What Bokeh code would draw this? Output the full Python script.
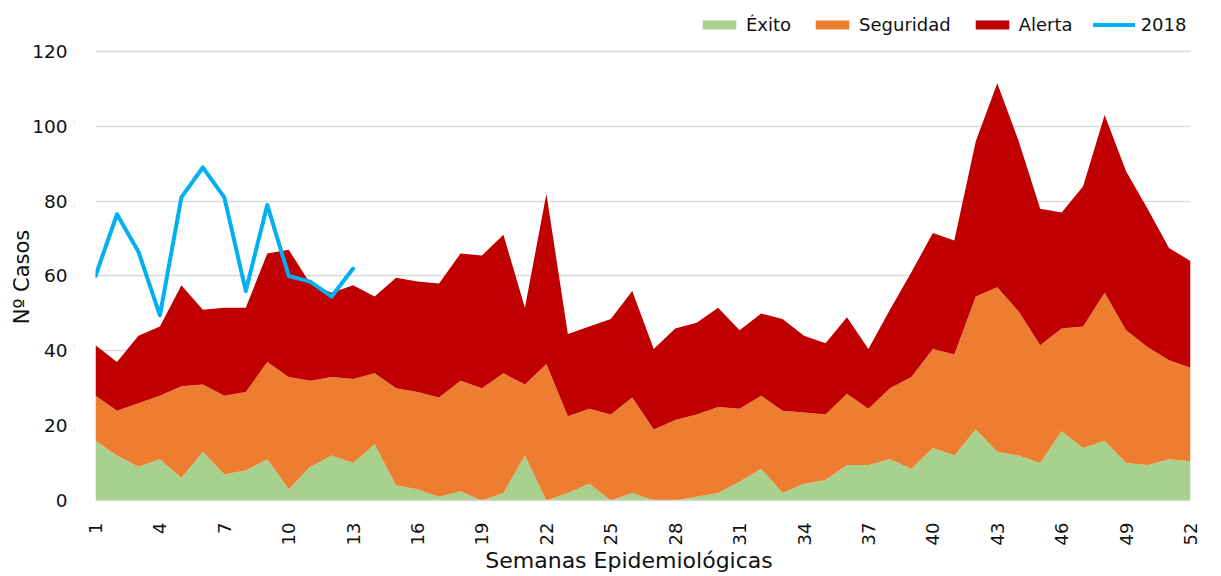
import math
from bokeh.plotting import figure
from bokeh.models import ColumnDataSource, Range1d, FixedTicker, Legend
from bokeh.embed import file_html
from bokeh.resources import INLINE

semanas = list(range(1, 53))
exito = [16, 12, 9, 11, 6, 13, 7, 8, 11, 3, 9, 12, 10, 15, 4, 3, 1, 2.5, 0, 2,
         12, 0, 2, 4.5, 0, 2, 0, 0, 1, 2, 5, 8.5, 2, 4.5, 5.5, 9.5, 9.5, 11, 8.5, 14,
         12, 19, 13, 12, 10, 18.5, 14, 16, 10, 9.5, 11, 10.5]
seguridad = [12, 12, 17, 17, 24.5, 18, 21, 21, 26, 30, 23, 21, 22.5, 19, 26, 26, 26.5, 29.5, 30, 32,
             19, 36.5, 20.5, 20, 23, 25.5, 19, 21.5, 22, 23, 19.5, 19.5, 22, 19, 17.5, 19, 15, 19, 24.5, 26.5,
             27, 35.5, 44, 38.5, 31.5, 27.5, 32.5, 39.5, 35.5, 31.5, 26.5, 25]
alerta = [13.5, 13, 18, 18.5, 27, 20, 23.5, 22.5, 29, 34, 26, 22.5, 25, 20.5, 29.5, 29.5, 30.5, 34, 35.5, 37,
          20.5, 45.5, 22, 22, 25.5, 28.5, 21.5, 24.5, 24.5, 26.5, 21, 22, 24.5, 20.5, 19, 20.5, 16, 21, 28, 31,
          30.5, 41.5, 54.5, 45.5, 36.5, 31, 37.5, 47.5, 42.5, 37, 30, 28.5]
semanas_2018 = list(range(1, 14))
casos_2018 = [60, 76.5, 66.5, 49.5, 81, 89, 81, 56, 79, 60, 58.5, 54.5, 62]
ticks_x = list(range(1, 53, 3))
ticks_y = [0, 20, 40, 60, 80, 100, 120]

series = ["Éxito", "Seguridad", "Alerta"]
colores = ["#A9D18E", "#ED7D31", "#C00000"]

src = ColumnDataSource(dict(semana=semanas, exito=exito, seguridad=seguridad, alerta=alerta))

FONT = "DejaVu Sans"
TXT = "#111111"
NB = "\u00a0"

# frame spans 13..500 px vertically; 120 sits at 51 px -> top of range ~130.15
p = figure(width=1221, height=576, output_backend="svg", toolbar_location=None,
           x_range=Range1d(1, 52), y_range=Range1d(0, 130.15),
           min_border_left=95, min_border_right=31, min_border_top=13, min_border_bottom=76)
p.outline_line_color = None
p.background_fill_color = "white"

rs = p.varea_stack(stackers=["exito", "seguridad", "alerta"], x="semana", color=colores, source=src)
ln = p.line(semanas_2018, casos_2018, line_width=4, color="#00B0F0", line_join="round", line_cap="round")

p.xgrid.grid_line_color = None
p.ygrid.grid_line_color = "#D9D9D9"
p.ygrid.grid_line_width = 1.3
p.ygrid.ticker = FixedTicker(ticks=ticks_y)

p.xaxis.ticker = FixedTicker(ticks=ticks_x)
p.xaxis.major_label_orientation = math.pi / 2
p.xaxis.axis_line_color = "#D9D9D9"
p.xaxis.axis_line_width = 1.5
p.xaxis.major_tick_line_color = None
p.xaxis.minor_tick_line_color = None
p.xaxis.major_tick_out = 0
p.xaxis.major_tick_in = 0
p.xaxis.major_label_standoff = 22
p.xaxis.major_label_text_font = FONT
p.xaxis.major_label_text_font_size = "18px"
p.xaxis.major_label_text_color = TXT
p.xaxis.axis_label = "Semanas Epidemiológicas" + NB * 4
p.xaxis.axis_label_text_font = FONT
p.xaxis.axis_label_text_font_size = "22px"
p.xaxis.axis_label_text_font_style = "normal"
p.xaxis.axis_label_text_color = TXT
p.xaxis.axis_label_standoff = 0

p.yaxis.ticker = FixedTicker(ticks=ticks_y)
p.yaxis.axis_line_color = None
p.yaxis.major_tick_line_color = None
p.yaxis.minor_tick_line_color = None
p.yaxis.major_tick_out = 0
p.yaxis.major_tick_in = 0
p.yaxis.major_label_standoff = 28
p.yaxis.major_label_text_font = FONT
p.yaxis.major_label_text_font_size = "18.5px"
p.yaxis.major_label_text_color = TXT
p.yaxis.axis_label = "Nº Casos" + NB * 6
p.yaxis.axis_label_text_font = FONT
p.yaxis.axis_label_text_font_size = "21px"
p.yaxis.axis_label_text_font_style = "normal"
p.yaxis.axis_label_text_color = TXT
p.yaxis.axis_label_standoff = -5

items = [(series[i], [rs[i]]) for i in range(3)] + [("2018", [ln])]
legend = Legend(items=items, orientation="horizontal", location=(603, 465),
                glyph_width=42, glyph_height=11, label_standoff=6, spacing=20,
                padding=0, margin=0, border_line_alpha=0, background_fill_alpha=0,
                label_text_font=FONT, label_text_font_size="18px", label_text_color=TXT)
p.add_layout(legend, "center")

open("out.html", "w").write(file_html(p, INLINE))
